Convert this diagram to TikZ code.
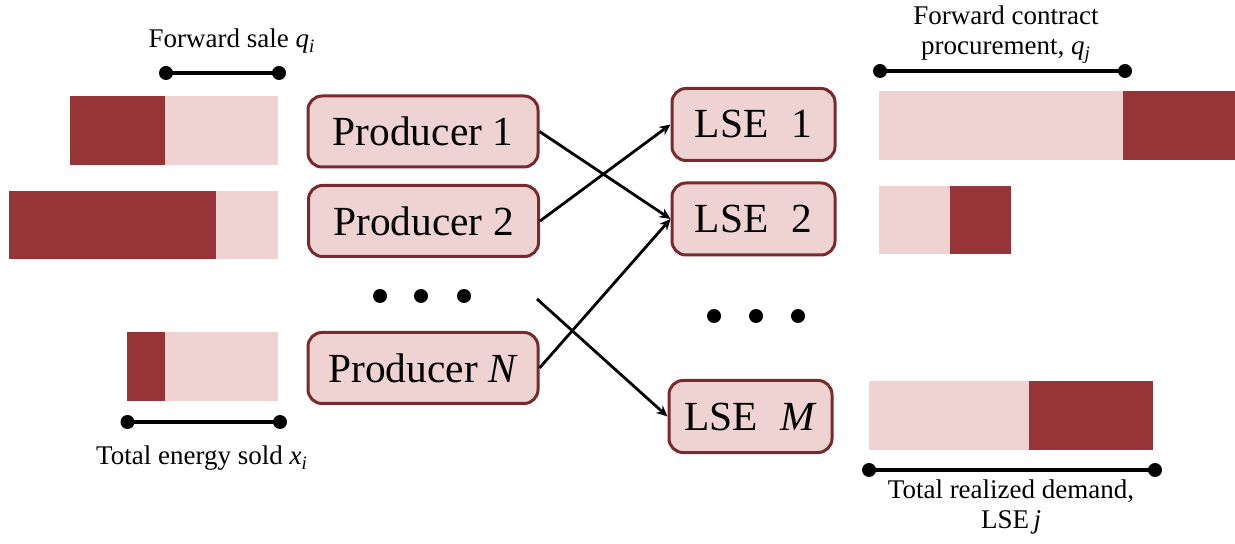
\documentclass[tikz,border=0pt]{standalone}
\usepackage{fontspec}
\setmainfont{Liberation Serif}
\usetikzlibrary{arrows.meta}
\definecolor{darkred}{RGB}{150,52,55}
\definecolor{lightpink}{RGB}{239,211,211}
\definecolor{boxborder}{RGB}{122,42,44}
\begin{document}
\begin{tikzpicture}[x=0.5pt,y=-0.5pt,
  agent/.style={draw=boxborder, line width=1.5pt, fill=lightpink, rounded corners=7pt,
    inner sep=0pt, font=\fontsize{20.7}{24}\selectfont},
  prod/.style={agent, minimum width=115pt, minimum height=35.5pt},
  lse/.style={agent, minimum width=81.5pt, minimum height=36pt},
  conn/.style={line width=1.4pt, -{Stealth[length=5.5pt,width=5pt]}},
  lbl/.style={inner sep=0pt, font=\fontsize{13.5}{15}\selectfont, align=center},
  bracketline/.style={line width=2pt},
  lightbar/.style={fill=lightpink},
  darkbar/.style={fill=darkred}
]
\useasboundingbox (0,0) rectangle (1235,544);

% left bars
\fill[lightbar] (69.6,96) rectangle (278,165);
\fill[darkbar] (69.6,96) rectangle (165,165);
\fill[lightbar] (9,191) rectangle (278,259);
\fill[darkbar] (9,191) rectangle (216,259);
\fill[lightbar] (127,332) rectangle (278,401);
\fill[darkbar] (127,332) rectangle (165,401);

% left brackets
\draw[bracketline] (166,73) -- (279,73);
\fill (166,73) circle[radius=3.5pt] (279,73) circle[radius=3.5pt];
\draw[bracketline] (127.5,422) -- (280,422);
\fill (127.5,422) circle[radius=3.5pt] (280,422) circle[radius=3.5pt];
\node[lbl, anchor=base] (fs) at (232,48) {Forward sale \textit{q}\textsubscript{\textit{i}}};
\node[lbl, anchor=base] (te) at (202,465) {Total energy sold \textit{x}\textsubscript{\textit{i}}};

% producers
\node[prod] (p1) at (423,131.5) {Producer 1};
\node[prod] (p2) at (423.5,221) {Producer 2};
\node[prod] (pN) at (423,368) {Producer \textit{N}};
\fill (380,296) circle[radius=3.5pt] (421,296) circle[radius=3.5pt] (464,296) circle[radius=3.5pt];

% LSEs
\node[lse] (l1) at (753.5,124.5) {LSE\hspace{0.55em}1};
\node[lse] (l2) at (753.5,219) {LSE\hspace{0.55em}2};
\node[lse] (lM) at (750.5,416.5) {LSE\hspace{0.55em}\textit{M}};
\fill (714,316) circle[radius=3.5pt] (756,316) circle[radius=3.5pt] (798,316) circle[radius=3.5pt];

% connectors
\coordinate (dd) at (537,299);
\draw[conn] (p1.east) -- (l2.west);
\draw[conn] (p2.east) -- (l1.west);
\draw[conn] (pN.east) -- (l2.west);
\draw[conn] (dd) -- (lM.west);

% right bars
\fill[lightbar] (879,91) rectangle (1235,160);
\fill[darkbar] (1123,91) rectangle (1235,160);
\fill[lightbar] (879,186) rectangle (1011,254);
\fill[darkbar] (950,186) rectangle (1011,254);
\fill[lightbar] (869,381) rectangle (1153,450);
\fill[darkbar] (1029,381) rectangle (1153,450);

% right brackets
\draw[bracketline] (880,71) -- (1125,71);
\fill (880,71) circle[radius=3.5pt] (1125,71) circle[radius=3.5pt];
\draw[bracketline] (869,470) -- (1155,470);
\fill (869,470) circle[radius=3.5pt] (1155,470) circle[radius=3.5pt];
\node[lbl, anchor=base] (fc) at (1006,55) {Forward contract\\procurement, \textit{q}\textsubscript{\textit{j}}};
\node[lbl, anchor=base] (td) at (1011,528) {Total realized demand,\\LSE\,\textit{j}};
\end{tikzpicture}
\end{document}
